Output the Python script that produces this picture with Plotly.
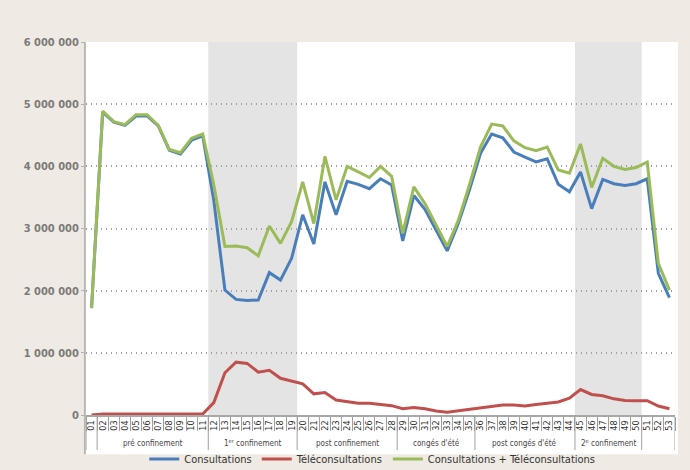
"""Weekly consultations / teleconsultations, 2020."""

import plotly.graph_objects as go

weeks = [
    "01", "02", "03", "04", "05", "06", "07", "08", "09", "10",
    "11", "12", "13", "14", "15", "16", "17", "18", "19", "20",
    "21", "22", "23", "24", "25", "26", "27", "28", "29", "30",
    "31", "32", "33", "34", "35", "36", "37", "38", "39", "40",
    "41", "42", "43", "44", "45", "46", "47", "48", "49", "50",
    "51", "52", "53",
]

# values in millions, read week by week
consultations_m = [
    1.72, 4.87, 4.71, 4.66, 4.81, 4.81, 4.65, 4.26, 4.20, 4.42,
    4.49, 3.45, 2.01, 1.86, 1.84, 1.85, 2.29, 2.17, 2.52, 3.22,
    2.75, 3.75, 3.22, 3.76, 3.71, 3.64, 3.80, 3.70, 2.80, 3.53,
    3.31, 2.97, 2.64, 3.08, 3.62, 4.21, 4.52, 4.46, 4.23, 4.15,
    4.07, 4.12, 3.71, 3.59, 3.91, 3.32, 3.79, 3.72, 3.69, 3.72,
    3.80, 2.28, 1.89,
]
teleconsultations_m = [
    0.0, 0.015, 0.015, 0.015, 0.015, 0.015, 0.015, 0.015, 0.015, 0.015,
    0.015, 0.20, 0.68, 0.85, 0.83, 0.69, 0.72, 0.59, 0.55, 0.50,
    0.34, 0.36, 0.24, 0.22, 0.19, 0.19, 0.17, 0.15, 0.10, 0.12,
    0.10, 0.065, 0.045, 0.07, 0.09, 0.12, 0.145, 0.16, 0.16, 0.145,
    0.17, 0.19, 0.21, 0.27, 0.41, 0.33, 0.31, 0.26, 0.235, 0.23,
    0.23, 0.145, 0.10,
]
total_m = [
    1.72, 4.89, 4.72, 4.67, 4.83, 4.83, 4.66, 4.27, 4.22, 4.45,
    4.52, 3.70, 2.71, 2.72, 2.69, 2.56, 3.04, 2.76, 3.11, 3.75,
    3.08, 4.16, 3.46, 4.00, 3.91, 3.82, 4.00, 3.84, 2.92, 3.67,
    3.40, 3.05, 2.71, 3.13, 3.70, 4.31, 4.68, 4.65, 4.41, 4.30,
    4.25, 4.31, 3.94, 3.89, 4.36, 3.66, 4.13, 4.00, 3.95, 3.98,
    4.07, 2.44, 2.01,
]

# periods (first week, last week)
period_labels = ["", "pré confinement", "1<sup>er</sup> confinement", "post confinement",
                 "congés d'été", "post congés d'été", "2<sup>e</sup> confinement", ""]
period_start = [1, 2, 12, 20, 29, 36, 45, 51]
period_end = [1, 11, 19, 28, 35, 44, 50, 53]
shaded_periods = [2, 6]  # confinements

BLUE = "#4a7ebb"
RED = "#c0504d"
GREEN = "#9bbb59"
BEIGE = "#efebe4"
NARROW = "Liberation Sans Narrow, DejaVu Sans Condensed, sans-serif"

fig = go.Figure()
series = [
    ("Consultations", consultations_m, BLUE),
    ("Téléconsultations", teleconsultations_m, RED),
    ("Consultations + Téléconsultations", total_m, GREEN),
]
for name, vals, color in series:
    fig.add_trace(go.Scatter(
        x=weeks, y=[v * 1e6 for v in vals], mode="lines", name=name,
        line=dict(color=color, width=3), cliponaxis=False,
    ))

shapes = [
    # white panel behind plot and week labels
    dict(type="rect", xref="paper", yref="paper", x0=-0.004, x1=1.005, y0=-0.105, y1=1.0,
         fillcolor="white", line_width=0, layer="below"),
]
for i in shaded_periods:
    shapes.append(dict(type="rect", xref="x", yref="paper",
                       x0=period_start[i] - 1.5, x1=period_end[i] - 0.5, y0=0, y1=1,
                       fillcolor="#e4e4e4", line_width=0, layer="below"))
bounds = sorted(set([s - 1.5 for s in period_start] + [e - 0.5 for e in period_end]))
for b in bounds:
    shapes.append(dict(type="line", xref="x", yref="paper", x0=b, x1=b, y0=0, y1=-0.094,
                       line=dict(color="#a0a0a0", width=1)))
# left axis line running down to the bottom of the panel
shapes.append(dict(type="line", xref="paper", yref="paper", x0=-0.002, x1=-0.002, y0=1, y1=-0.105,
                   line=dict(color="#b4b4b4", width=2)))

annotations = []
for lab, s, e in zip(period_labels, period_start, period_end):
    if not lab:
        continue
    annotations.append(dict(
        x=(s + e) / 2 - 1, y=-0.076, xref="x", yref="paper", text=lab, showarrow=False,
        font=dict(family=NARROW, size=8, color="#444"),
        yanchor="middle",
    ))

fig.update_layout(
    width=690, height=470,
    paper_bgcolor=BEIGE, plot_bgcolor="white",
    margin=dict(l=86, r=15, t=42, b=55, autoexpand=False),
    separators=", ",
    shapes=shapes, annotations=annotations,
    legend=dict(orientation="h", x=0.486, xanchor="center", y=-0.118, yanchor="middle",
                font=dict(family=NARROW, size=11, color="#333"),
                bgcolor="rgba(0,0,0,0)", itemwidth=30),
    showlegend=True,
)
fig.update_xaxes(
    type="category", range=[-0.5, 52.5], tickangle=-90,
    tickson="boundaries", ticks="outside", ticklen=14, tickcolor="#a0a0a0",
    showgrid=False, showline=True, linecolor="#a8a8a8", linewidth=1.5,
    tickfont=dict(family=NARROW, size=9, color="#333"),
)
fig.update_yaxes(
    range=[0, 6000000], tickvals=[0, 1e6, 2e6, 3e6, 4e6, 5e6, 6e6], tickformat=",d",
    showgrid=True, gridcolor="#a0a0a0", griddash="1px,4px", gridwidth=1.5,
    zeroline=False, showline=False,
    ticks="outside", ticklen=4, tickcolor="#b0b0b0",
    tickfont=dict(family="DejaVu Sans Condensed, sans-serif", size=11, color="#7a7a7a", weight="bold"),
)

# drop the default page margin so the figure fills the window
fig.write_html("out.html", config={"displayModeBar": False},
               post_script="document.body.style.margin='0';")
